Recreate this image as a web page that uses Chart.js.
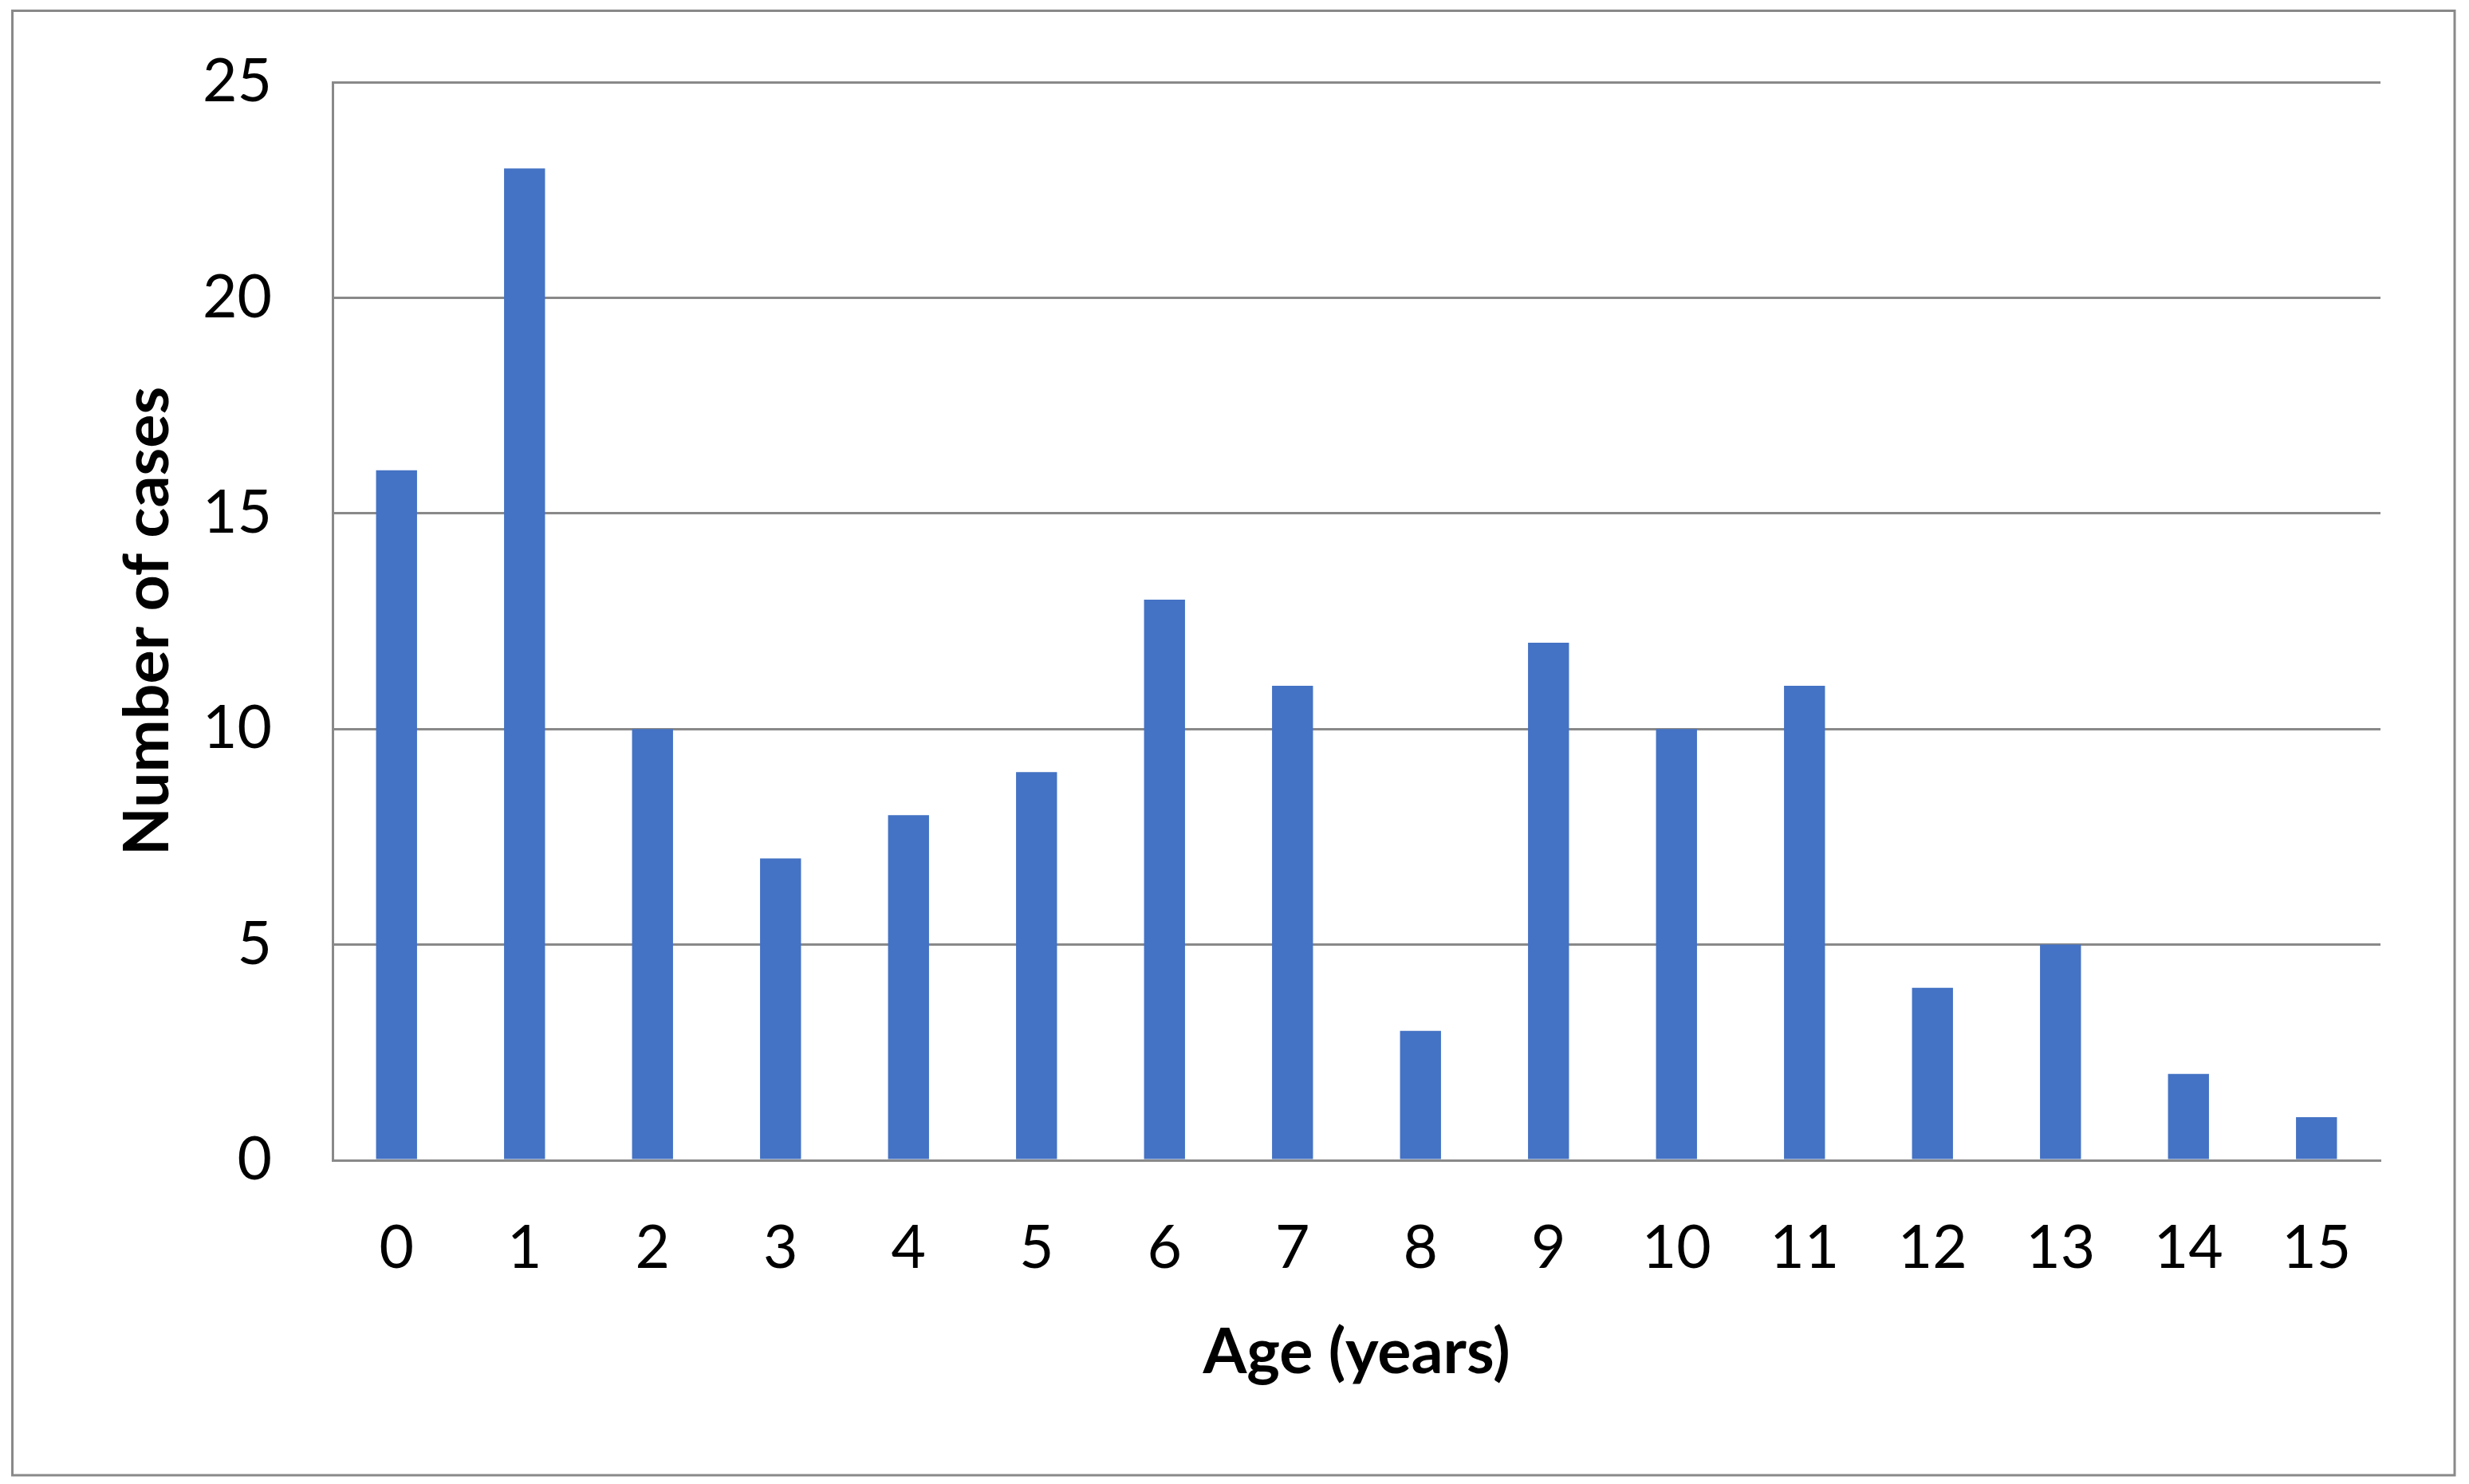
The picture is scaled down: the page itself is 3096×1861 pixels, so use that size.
<!DOCTYPE html>
<html>
<head>
<meta charset="utf-8">
<script src="https://cdn.jsdelivr.net/npm/chart.js@4.4.1/dist/chart.umd.min.js"></script>
<style>
  html, body { margin: 0; padding: 0; background: #ffffff; }
  canvas { display: block; }
</style>
</head>
<body>
<canvas id="chart" width="3096" height="1861"></canvas>
<script>
// ---- Data ----
const categories = ['0','1','2','3','4','5','6','7','8','9','10','11','12','13','14','15'];
const cases = [16, 23, 10, 7, 8, 9, 13, 11, 3, 12, 10, 11, 4, 5, 2, 1];
const yTickValues = [0, 5, 10, 15, 20, 25];
const xTitle = 'Age (years)';
const yTitle = 'Number of cases';

const GRID = '#898989';
const BAR = '#4472C4';
const FONT = 'Lato, "Open Sans", sans-serif';

const frame = {
  id: 'frame',
  beforeDraw(chart) {
    const ctx = chart.ctx;
    ctx.save();
    ctx.fillStyle = '#ffffff';
    ctx.fillRect(0, 0, chart.width, chart.height);
    ctx.strokeStyle = GRID;
    ctx.lineWidth = 3;
    ctx.strokeRect(15.5, 13.5, 3078 - 15.5, 1850 - 13.5);
    ctx.restore();
  }
};

new Chart(document.getElementById('chart'), {
  type: 'bar',
  data: {
    labels: categories,
    datasets: [{
      data: cases,
      backgroundColor: BAR,
      borderWidth: 0,
      barPercentage: 0.32,
      categoryPercentage: 1.0
    }]
  },
  options: {
    responsive: false,
    animation: false,
    devicePixelRatio: 1,
    layout: { padding: { left: 0, top: 103, right: 111, bottom: 0 } },
    plugins: { legend: { display: false }, tooltip: { enabled: false } },
    scales: {
      x: {
        grid: { display: false, drawTicks: false },
        border: { display: true, color: GRID, width: 3 },
        ticks: { color: '#000', font: { family: FONT, size: 75 }, padding: 66, maxRotation: 0, autoSkip: false },
        title: { display: true, text: xTitle, color: '#000', font: { family: FONT, size: 79, weight: 'bold' }, padding: { top: 0, bottom: 117 } },
        afterFit(scale) { scale.height = 406; scale.paddingLeft = 0; scale.paddingRight = 0; }
      },
      y: {
        min: 0,
        max: 25,
        afterBuildTicks(scale) { scale.ticks = yTickValues.map(v => ({ value: v })); },
        grid: { display: true, color: GRID, lineWidth: 3, drawTicks: false },
        border: { display: true, color: GRID, width: 3 },
        ticks: { color: '#000', font: { family: FONT, size: 75 }, padding: 76 },
        title: { display: true, text: yTitle, color: '#000', font: { family: FONT, size: 79, weight: 'bold' }, padding: { top: 138, bottom: 0 } },
        afterFit(scale) { scale.width = 417; scale.paddingTop = 0; scale.paddingBottom = 0; }
      }
    }
  },
  plugins: [frame]
});
</script>
</body>
</html>
